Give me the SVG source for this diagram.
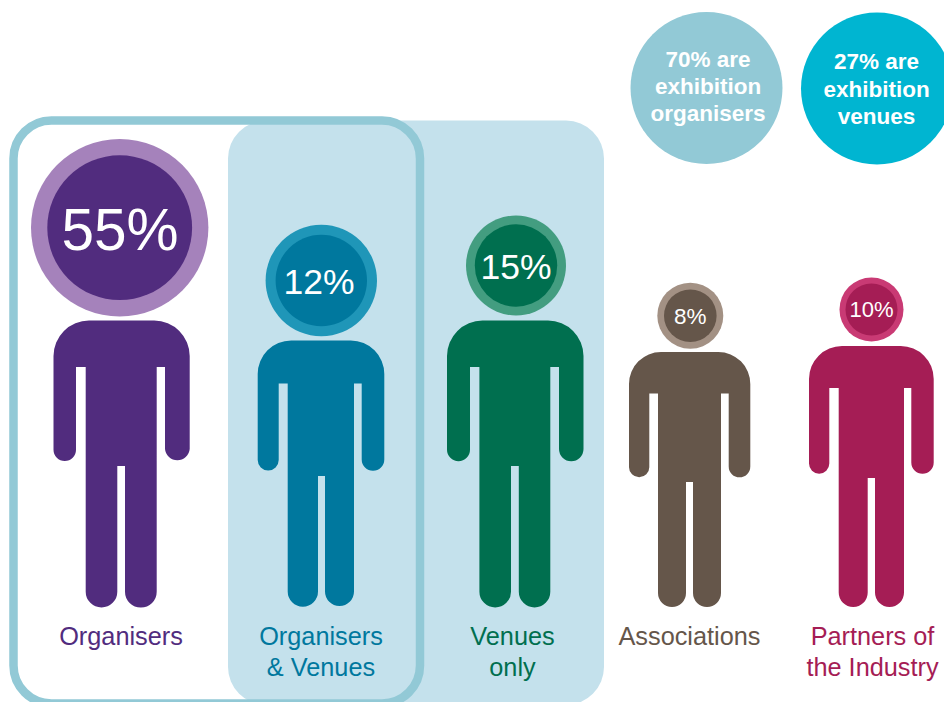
<svg xmlns="http://www.w3.org/2000/svg" width="944" height="702" viewBox="0 0 944 702">
<style>
text{font-family:"Liberation Sans",Arial,sans-serif;text-anchor:middle}
.pct{fill:#fff}
.lab{font-size:25.3px}
.note{font-size:22.500px;font-weight:700;fill:#fff}
.purple{fill:#512c7e}.teal{fill:#00789e}.green{fill:#006f4f}.brown{fill:#65564a}.crimson{fill:#a51d55}
</style>
<rect width="944" height="702" fill="#fff"/>
<g id="groups">
<rect id="venues-band" x="228" y="120.500" width="376" height="584.500" rx="38" fill="#c4e1ec"/>
<rect id="organisers-frame" x="13.500" y="120.500" width="406.500" height="583" rx="38" fill="none" stroke="#92c9d6" stroke-width="8.500"/>
</g>
<g id="note-organisers">
<circle cx="706.500" cy="88" r="76" fill="#92c9d6"/>
<text class="note" x="708" y="67">70% are</text>
<text class="note" x="708" y="94">exhibition</text>
<text class="note" x="708" y="121">organisers</text>
</g>
<g id="note-venues">
<circle cx="877" cy="88.500" r="76" fill="#00b5d1"/>
<text class="note" x="876.500" y="69">27% are</text>
<text class="note" x="876.500" y="96.500">exhibition</text>
<text class="note" x="876.500" y="124">venues</text>
</g>
<g id="organisers">
<circle cx="119.700" cy="227.700" r="88.700" fill="#a582bb"/>
<circle cx="119.700" cy="227.700" r="72.400" class="purple"/>
<text class="pct" x="120" y="249.500" font-size="58.500">55%</text>
<path class="purple" d="M53.500 356A35.500 35.500 0 0 1 89 320.500H154.200A35.500 35.500 0 0 1 189.700 356V449A12.400 12.400 0 0 1 165 449V367H156.700V591.700A15.850 15.850 0 0 1 125 591.700V466H117.300V591.700A15.800 15.800 0 0 1 85.700 591.700V367H76V449.700A11.250 11.250 0 0 1 53.500 449.700Z"/>
<text class="lab purple" x="121" y="644.500">Organisers</text>
</g>
<g id="organisers-venues">
<circle cx="321.300" cy="280.500" r="55.700" fill="#1f96b8"/>
<circle cx="321.300" cy="280.500" r="45.700" class="teal"/>
<text class="pct" x="319" y="293.500" font-size="35.500">12%</text>
<path class="teal" d="M257.700 374A33.500 33.500 0 0 1 291.200 340.500H350.800A33.500 33.500 0 0 1 384.300 374V459.500A11.300 11.300 0 0 1 361.700 459.500V383.500H354V591.500A14.500 14.500 0 0 1 325 591.500V476H318V591.500A15.150 15.150 0 0 1 287.700 591.500V383.500H278.700V460A10.500 10.500 0 0 1 257.700 460Z"/>
<text class="lab teal" x="321" y="644.500">Organisers</text>
<text class="lab teal" x="321" y="675.500">&amp; Venues</text>
</g>
<g id="venues-only">
<circle cx="516" cy="265.500" r="50" fill="#439d80"/>
<circle cx="516" cy="265.500" r="41.200" class="green"/>
<text class="pct" x="516" y="279" font-size="35.500">15%</text>
<path class="green" d="M447 356A35.500 35.500 0 0 1 482.500 320.500H548A35.500 35.500 0 0 1 583.500 356V449A12.250 12.250 0 0 1 559 449V367H550.300V591.700A15.750 15.750 0 0 1 518.800 591.700V466H511V591.700A15.800 15.800 0 0 1 479.400 591.700V367H470V449.700A11.500 11.500 0 0 1 447 449.700Z"/>
<text class="lab green" x="512.500" y="644.500">Venues</text>
<text class="lab green" x="512.500" y="675.500">only</text>
</g>
<g id="associations">
<circle cx="690.300" cy="315.700" r="33" fill="#a39184"/>
<circle cx="690.300" cy="315.700" r="26.300" class="brown"/>
<text class="pct" x="690.300" y="324" font-size="22.500">8%</text>
<path class="brown" d="M629 384A32 32 0 0 1 661 352H718.300A32 32 0 0 1 750.300 384V466.500A10.800 10.800 0 0 1 728.700 466.500V393.500H721V593A14 14 0 0 1 693 593V482H686V593A14 14 0 0 1 658 593V393.500H649.300V467.200A10.150 10.150 0 0 1 629 467.200Z"/>
<text class="lab brown" x="689.500" y="644.500">Associations</text>
</g>
<g id="partners">
<circle cx="871.500" cy="309.500" r="32" fill="#c93a74"/>
<circle cx="871.500" cy="309.500" r="26" class="crimson"/>
<text class="pct" x="871.500" y="317" font-size="22">10%</text>
<path class="crimson" d="M809 379A33 33 0 0 1 842 346H900.700A33 33 0 0 1 933.700 379V462.500A11.200 11.200 0 0 1 911.300 462.500V388H904V592.500A14.500 14.500 0 0 1 875 592.500V478H867.700V592.500A14.500 14.500 0 0 1 838.700 592.500V388H829.300V463.500A10.150 10.150 0 0 1 809 463.500Z"/>
<text class="lab crimson" x="872.500" y="644.500">Partners of</text>
<text class="lab crimson" x="872.500" y="675.500">the Industry</text>
</g>
</svg>
